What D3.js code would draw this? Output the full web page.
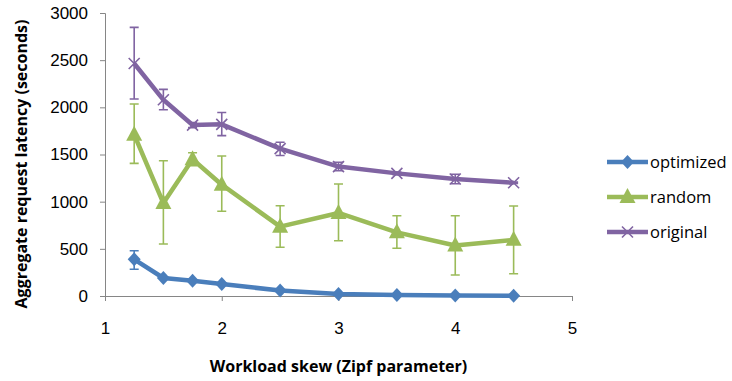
<!DOCTYPE html>
<html>
<head>
<meta charset="utf-8">
<script src="https://cdn.jsdelivr.net/npm/d3@7"></script>
<style>
  html, body { margin: 0; padding: 0; background: #fff; }
  svg { display: block; font-family: "Open Sans", "Liberation Sans", sans-serif; }
</style>
</head>
<body>
<svg id="chart" width="732" height="381"></svg>
<script>
// Zipf skew values at which each configuration was measured
const skew = [1.25, 1.5, 1.75, 2, 2.5, 3, 3.5, 4, 4.5];

// Mean aggregate request latency (seconds) and error-bar bounds per series
const optimizedMean = [389, 191, 162, 127, 58, 20, 11, 6, 3];
const optimizedLow  = [283, 185, 156, 121, 53, 17, 9, 4, 2];
const optimizedHigh = [480, 197, 168, 133, 63, 23, 13, 8, 4];

const randomMean = [1710, 985, 1450, 1180, 735, 880, 675, 535, 595];
const randomLow  = [1406, 551, 1380, 898, 516, 586, 506, 223, 236];
const randomHigh = [2035, 1434, 1519, 1484, 957, 1187, 851, 851, 954];

const originalMean = [2465, 2080, 1812, 1820, 1562, 1372, 1300, 1240, 1200];
const originalLow  = [2088, 1975, 1785, 1700, 1490, 1328, 1285, 1190, 1192];
const originalHigh = [2848, 2190, 1840, 1945, 1630, 1418, 1315, 1290, 1208];

const seriesNames = ["optimized", "random", "original"];
const xTicks = [1, 2, 3, 4, 5];
const yTicks = [0, 500, 1000, 1500, 2000, 2500, 3000];

const series = [
  { name: seriesNames[0], mean: optimizedMean, low: optimizedLow, high: optimizedHigh, color: "#4a7ebb", marker: "diamond" },
  { name: seriesNames[1], mean: randomMean,    low: randomLow,    high: randomHigh,    color: "#9bbb59", marker: "triangle" },
  { name: seriesNames[2], mean: originalMean,  low: originalLow,  high: originalHigh,  color: "#8064a2", marker: "cross" }
];

const svg = d3.select("#chart");
const plot = { left: 105, right: 572, top: 13, bottom: 296 };

const x = d3.scaleLinear().domain([1, 5]).range([plot.left, plot.right]);
const y = d3.scaleLinear().domain([0, 3000]).range([plot.bottom, plot.top]);

const axisColor = "#868686";
const textColor = "#000";

// Y axis
const yAxis = svg.append("g")
  .attr("transform", `translate(${plot.left},0)`)
  .call(d3.axisLeft(y).tickValues(yTicks).tickFormat(d3.format("d")).tickSize(5).tickPadding(12));
yAxis.select(".domain").attr("stroke", axisColor).attr("stroke-width", 1);
yAxis.selectAll(".tick line").attr("stroke", axisColor);
yAxis.selectAll(".tick text").attr("fill", textColor).attr("font-size", 17);

// X axis
const xAxis = svg.append("g")
  .attr("transform", `translate(0,${plot.bottom})`)
  .call(d3.axisBottom(x).tickValues(xTicks).tickFormat(d3.format("d")).tickSize(5).tickPadding(21));
xAxis.select(".domain").attr("stroke", axisColor).attr("stroke-width", 1);
xAxis.selectAll(".tick line").attr("stroke", axisColor);
xAxis.selectAll(".tick text").attr("fill", textColor).attr("font-size", 17);

// Axis titles
svg.append("text")
  .attr("x", x(3)).attr("y", 372)
  .attr("text-anchor", "middle")
  .attr("font-size", 16).attr("font-weight", "bold").attr("fill", textColor)
  .text("Workload skew (Zipf parameter)");

svg.append("text")
  .attr("transform", "translate(27,164) rotate(-90)")
  .attr("text-anchor", "middle")
  .attr("font-size", 16).attr("font-weight", "bold").attr("fill", textColor)
  .text("Aggregate request latency (seconds)");

// Marker drawing
function drawMarker(g, type, color, cx, cy) {
  if (type === "diamond") {
    g.append("path")
      .attr("d", "M0,-7 L6.5,0 L0,7 L-6.5,0 Z")
      .attr("transform", `translate(${cx},${cy})`)
      .attr("fill", color);
  } else if (type === "triangle") {
    g.append("path")
      .attr("d", `M0,-9 L8,6 L-8,6 Z`)
      .attr("transform", `translate(${cx},${cy})`)
      .attr("fill", color);
  } else {
    const s = 5.5;
    g.append("path")
      .attr("d", `M${-s},${-s} L${s},${s} M${-s},${s} L${s},${-s}`)
      .attr("transform", `translate(${cx},${cy})`)
      .attr("stroke", color).attr("stroke-width", 1.6).attr("fill", "none");
  }
}

const capHalf = 4.5;

series.forEach(s => {
  const g = svg.append("g");
  const pts = skew.map((k, i) => ({ k, m: s.mean[i], lo: s.low[i], hi: s.high[i] }));

  // error bars
  pts.forEach(p => {
    const px = x(p.k);
    g.append("path")
      .attr("d", `M${px},${y(p.hi)} L${px},${y(p.lo)} M${px - capHalf},${y(p.hi)} L${px + capHalf},${y(p.hi)} M${px - capHalf},${y(p.lo)} L${px + capHalf},${y(p.lo)}`)
      .attr("stroke", s.color).attr("stroke-width", 1.6).attr("fill", "none");
  });

  // line
  g.append("path")
    .datum(pts)
    .attr("d", d3.line().x(p => x(p.k)).y(p => y(p.m)))
    .attr("stroke", s.color).attr("stroke-width", 4.5)
    .attr("stroke-linejoin", "round").attr("fill", "none");

  // markers
  pts.forEach(p => drawMarker(g, s.marker, s.color, x(p.k), y(p.m)));
});

// Legend
const legendY = [162, 197, 232];
series.forEach((s, i) => {
  const g = svg.append("g");
  const ly = legendY[i];
  g.append("line")
    .attr("x1", 607).attr("x2", 648).attr("y1", ly).attr("y2", ly)
    .attr("stroke", s.color).attr("stroke-width", 4.5);
  drawMarker(g, s.marker, s.color, 627.5, ly);
  g.append("text")
    .attr("x", 650).attr("y", ly).attr("dy", "0.35em")
    .attr("font-size", 16.5).attr("fill", textColor)
    .text(s.name);
});
</script>
</body>
</html>
